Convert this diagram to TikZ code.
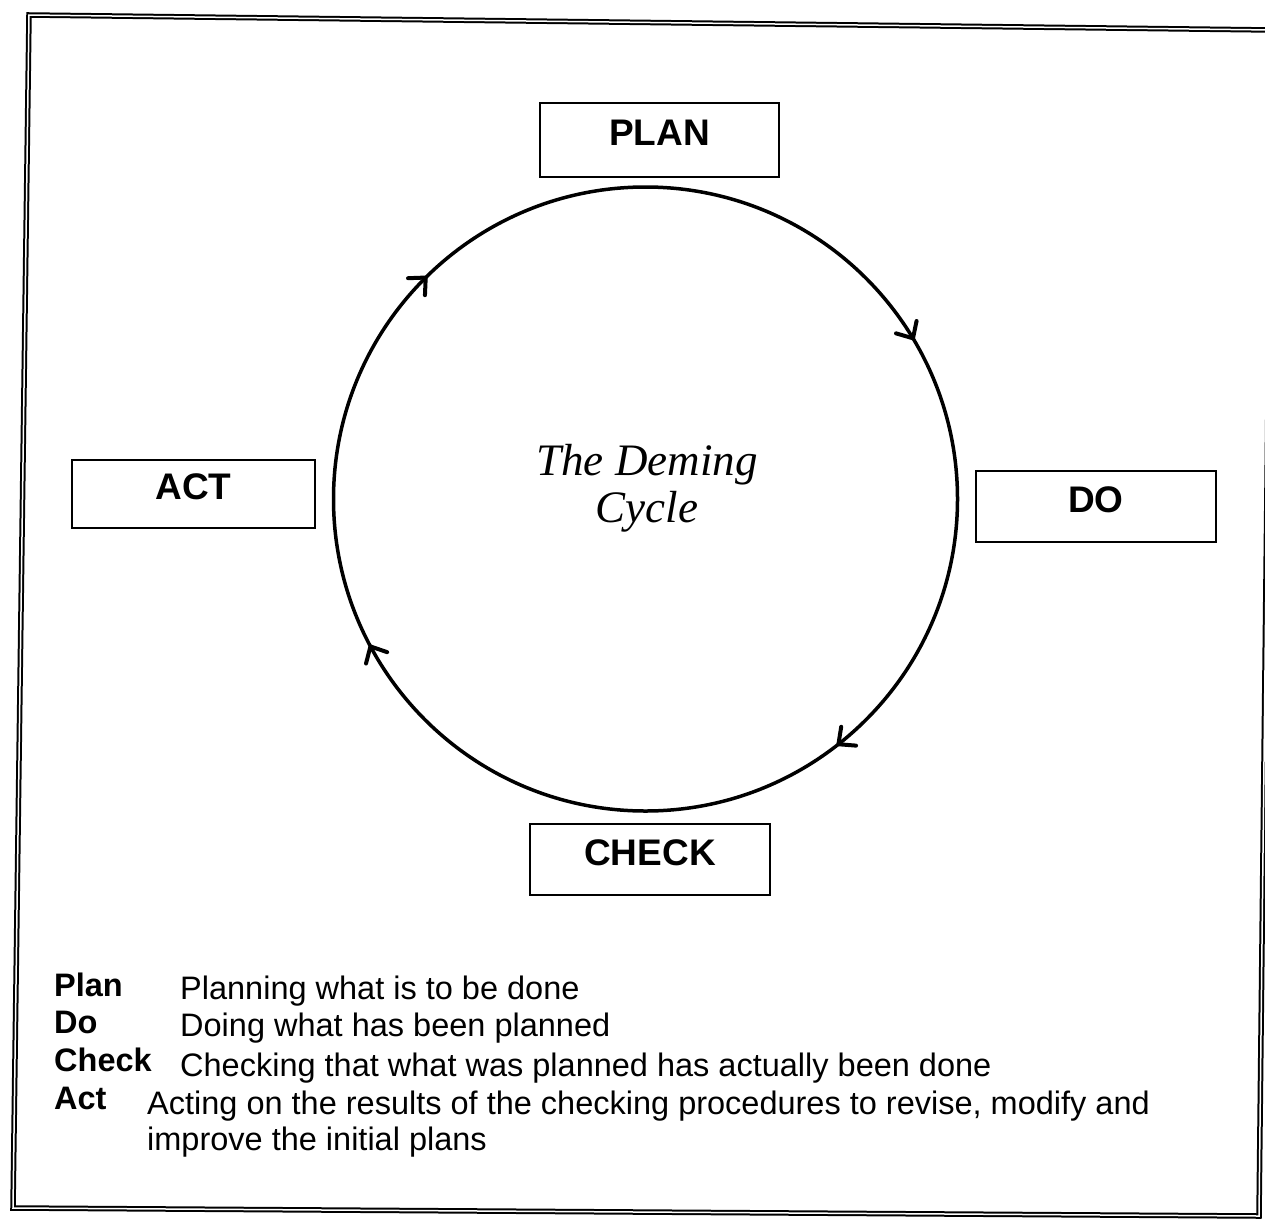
\documentclass[tikz,border=0pt]{standalone}
\usepackage{fontspec}
\setmainfont{Liberation Sans}
\newfontfamily\titlefont{Liberation Serif}
\usetikzlibrary{decorations.markings}
\begin{document}
\begin{tikzpicture}[x=1pt,y=1pt,
  stage/.style={draw, line width=2.4pt, minimum width=240pt, minimum height=71pt,
    inner sep=0pt, text height=26pt, text depth=15pt,
    font=\fontsize{37}{37}\selectfont\bfseries},
  key/.style={anchor=base west, inner sep=0pt, font=\fontsize{32.5}{38}\selectfont\bfseries},
  desc/.style={anchor=base west, inner sep=0pt, font=\fontsize{32.5}{38}\selectfont},
  % open chevron pointing clockwise (against the path direction)
  chevron/.style={line width=4pt, line cap=round, line join=round},
]
\useasboundingbox (0,0) rectangle (1265,-1218);

% double outer frame
\draw[line width=2pt, double distance=1.5pt]
  (29,-15) -- (1272,-30) -- (1259,-1216) -- (13,-1208) -- cycle;

% the cycle with its clockwise arrowheads
\coordinate (c) at (645.5,-499);
\draw[line width=3.5pt, postaction=decorate, decoration={markings,
    mark=at position 0.0861 with {\draw[chevron] (13,12) -- (0,0) -- (13,-12);},
    mark=at position 0.3744 with {\draw[chevron] (13,12) -- (0,0) -- (13,-12);},
    mark=at position 0.5783 with {\draw[chevron] (13,12) -- (0,0) -- (13,-12);},
    mark=at position 0.8561 with {\draw[chevron] (13,12) -- (0,0) -- (13,-12);}}]
  (c) circle[radius=312];

\node[font=\titlefont\itshape\fontsize{45}{47}\selectfont, align=center]
  (title) at (647,-488) {The Deming\\Cycle};

% the four stages
\node[stage, minimum width=239pt, minimum height=74pt] (plan) at (659.5,-140) {PLAN};
\node[stage] (do) at (1096,-506.5) {DO};
\node[stage, minimum width=243pt, minimum height=68pt] (act) at (193.5,-494) {ACT};
\node[stage] (check) at (650,-859.5) {CHECK};

% key
\node[key] (kplan) at (54,-996) {Plan};
\node[desc] (dplan) at (180,-999) {Planning what is to be done};
\node[key] (kdo) at (54,-1033) {Do};
\node[desc] (ddo) at (180,-1036) {Doing what has been planned};
\node[key] (kcheck) at (54,-1071) {Check};
\node[desc] (dcheck) at (180,-1076) {Checking that what was planned has actually been done};
\node[key] (kact) at (54,-1109) {Act};
\node[desc] (dact) at (147,-1114) {Acting on the results of the checking procedures to revise, modify and};
\node[desc] (dact2) at (147,-1150) {improve the initial plans};
\end{tikzpicture}
\end{document}
